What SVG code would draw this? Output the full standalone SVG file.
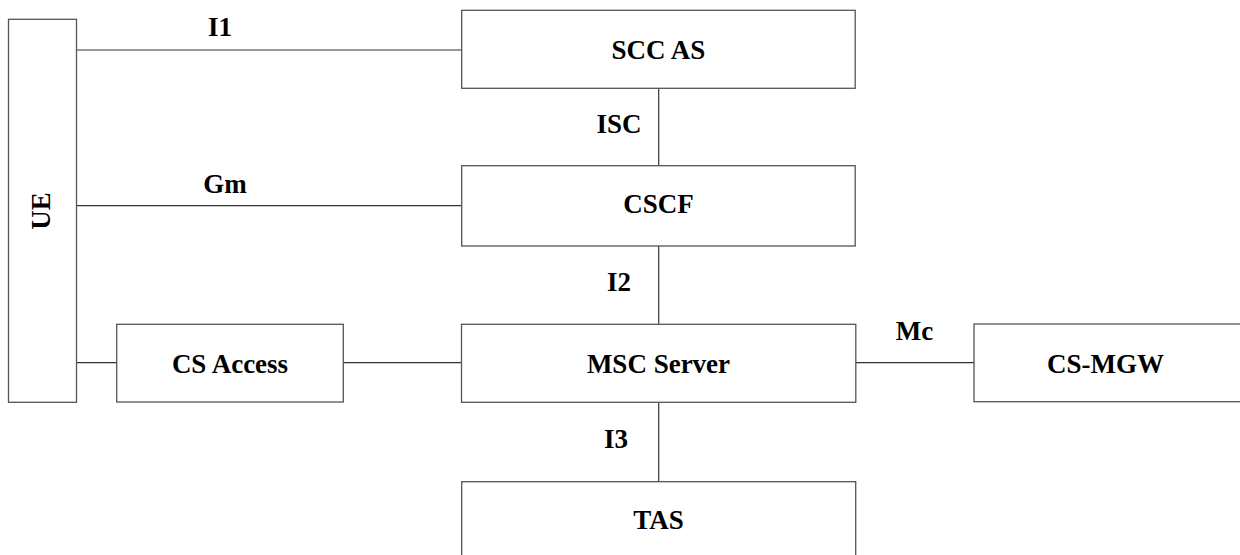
<svg xmlns="http://www.w3.org/2000/svg" width="1240" height="555" viewBox="0 0 1240 555">
<style>
.box{fill:#fff;stroke:#555;stroke-width:1.3}
.ln{stroke:#333;stroke-width:1.2;fill:none}
text{font-family:'Liberation Serif','Times New Roman',Times,'DejaVu Serif',serif;font-weight:bold;font-size:27px;fill:#000;text-anchor:middle}
</style>
<rect width="1240" height="555" fill="#fff"/>
<g id="connectors">
<line class="ln" x1="76.5" y1="50" x2="461.7" y2="50"/>
<line class="ln" x1="76.5" y1="205.7" x2="461.7" y2="205.7"/>
<line class="ln" x1="76.5" y1="362.7" x2="116.7" y2="362.7"/>
<line class="ln" x1="343.3" y1="362.7" x2="461.5" y2="362.7"/>
<line class="ln" x1="855.8" y1="362.7" x2="974" y2="362.7"/>
<line class="ln" x1="658.7" y1="88.3" x2="658.7" y2="165.7"/>
<line class="ln" x1="658.7" y1="246" x2="658.7" y2="324.3"/>
<line class="ln" x1="658.7" y1="402.3" x2="658.7" y2="481.7"/>
<text x="220" y="36">I1</text>
<text x="225" y="193">Gm</text>
<text x="619" y="133">ISC</text>
<text x="619" y="291">I2</text>
<text x="616" y="448">I3</text>
<text x="914.5" y="340">Mc</text>
</g>
<g id="ue">
<rect class="box" x="8.5" y="19.3" width="68" height="383"/>
<text transform="translate(50,211) rotate(-90)">UE</text>
</g>
<g id="sccas">
<rect class="box" x="461.7" y="10.3" width="393.5" height="78"/>
<text x="658.5" y="59">SCC AS</text>
</g>
<g id="cscf">
<rect class="box" x="461.7" y="165.7" width="393.5" height="80.3"/>
<text x="658.5" y="213.3">CSCF</text>
</g>
<g id="csaccess">
<rect class="box" x="116.7" y="324.3" width="226.6" height="77.7"/>
<text x="230" y="372.7">CS Access</text>
</g>
<g id="msc">
<rect class="box" x="461.5" y="324.3" width="394.3" height="78"/>
<text x="658.5" y="372.7">MSC Server</text>
</g>
<g id="csmgw">
<rect class="box" x="974" y="324" width="270" height="77.7"/>
<text x="1105.5" y="372.7">CS-MGW</text>
</g>
<g id="tas">
<rect class="box" x="461.7" y="481.7" width="394" height="90"/>
<text x="658.5" y="529.3">TAS</text>
</g>
</svg>
